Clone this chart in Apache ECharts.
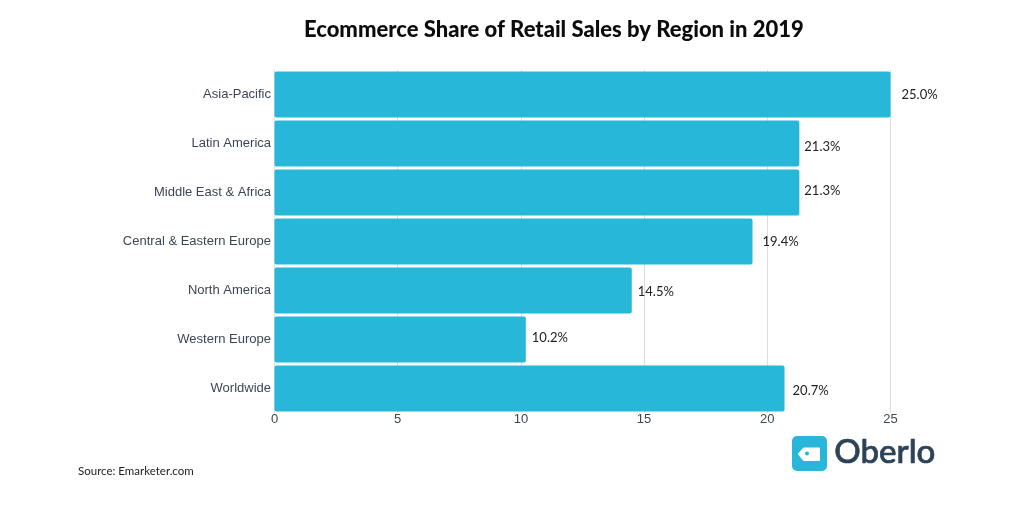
<!DOCTYPE html>
<html>
<head>
<meta charset="utf-8">
<style>html,body{margin:0;padding:0;background:#fff}#chart{width:1024px;height:524px}</style>
<script src="https://cdn.jsdelivr.net/npm/echarts@6/dist/echarts.min.js"></script>
</head>
<body>
<div id="chart"></div>
<script>
var regions = ['Asia-Pacific', 'Latin America', 'Middle East & Africa', 'Central & Eastern Europe', 'North America', 'Western Europe', 'Worldwide'];
var shares = [25.0, 21.3, 21.3, 19.4, 14.5, 10.2, 20.7];
// the value labels sit a bit unevenly next to the bars in the original
var labelNudgeX = [3, -3, -3, 2, -2, -2, 0];
var labelNudgeY = [0, 3, -2, 0, 1, -2, 2];

var myChart = echarts.init(document.getElementById('chart'));
var option = {
	animation: false,
	backgroundColor: '#fff',
	title: {
		text: 'Ecommerce Share of Retail Sales by Region in 2019',
		left: 299,
		top: 14,
		textStyle: { fontFamily: 'Lato', fontWeight: 900, fontSize: 22, color: '#0c0c0c' }
	},
	grid: { left: 274.5, top: 70, width: 616, height: 343 },
	xAxis: {
		type: 'value',
		min: 0,
		max: 25,
		interval: 5,
		axisLine: { show: false },
		axisTick: { show: false },
		axisLabel: { fontFamily: 'Liberation Sans', fontSize: 13, color: '#3d4656', margin: 0 },
		splitLine: { show: true, lineStyle: { color: '#dcdde0', width: 1 } }
	},
	yAxis: {
		type: 'category',
		inverse: true,
		data: regions,
		axisLine: { show: true, lineStyle: { color: '#dcdde0' } },
		axisTick: { show: false },
		axisLabel: { fontFamily: 'Liberation Sans', fontSize: 13, color: '#3d4656', margin: 3.5 }
	},
	series: [{
		type: 'bar',
		data: shares.map(function (v, i) {
			return { value: v, label: { offset: [labelNudgeX[i], labelNudgeY[i]] } };
		}),
		barWidth: 46,
		itemStyle: { color: '#27b7d9', borderRadius: 2 },
		label: {
			show: true,
			position: 'right',
			distance: 8,
			fontFamily: 'Lato',
			fontSize: 13,
			color: '#222',
			formatter: function (p) { return p.value.toFixed(1) + '%'; }
		}
	}],
	graphic: [
		{ type: 'text', left: 78, top: 465, style: { text: 'Source: Emarketer.com', fontFamily: 'Lato', fontSize: 11.5, fill: '#222' } },
		{ type: 'rect', shape: { x: 792, y: 436, width: 35, height: 35, r: 5 }, style: { fill: '#27b7d9' } },
		{ type: 'polygon', shape: { points: [[799, 454], [804, 448.5], [819, 448.5], [819, 460], [804, 460]] }, style: { fill: '#fff', stroke: '#fff', lineWidth: 2, lineJoin: 'round' } },
		{ type: 'circle', shape: { cx: 807, cy: 453.5, r: 2 }, style: { fill: '#27b7d9' } },
		{ type: 'text', left: 834, top: 436, style: { text: 'Oberlo', fontFamily: 'Lato', fontSize: 33, fontWeight: 500, fill: '#2c4257', stroke: '#2c4257', lineWidth: 0.7 } }
	]
};
myChart.setOption(option);
window.onresize = myChart.resize;
</script>
</body>
</html>
